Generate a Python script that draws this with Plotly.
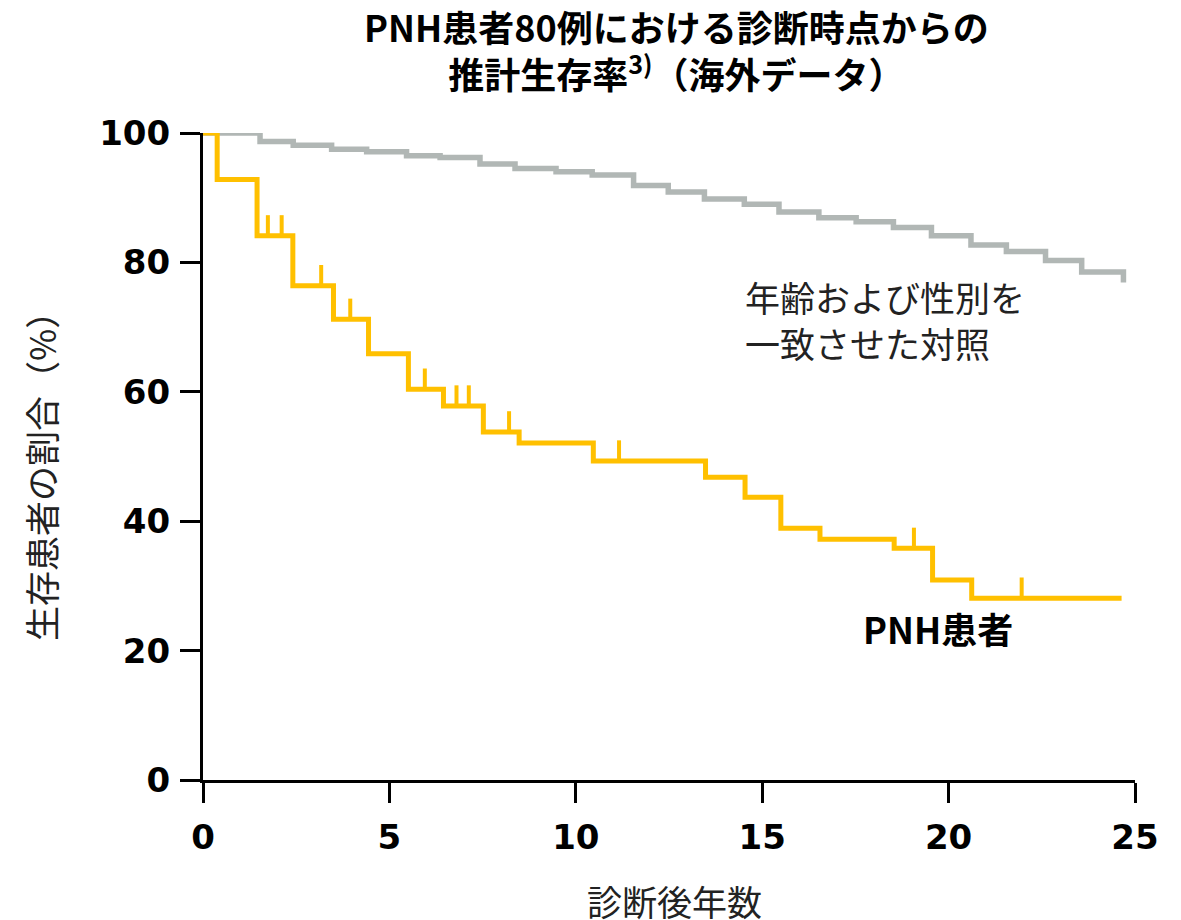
import plotly.graph_objects as go

# PNH patients (Kaplan-Meier steps)
pnh_t = [0, 0.38, 1.45, 2.41, 3.50, 4.44, 5.51, 6.45, 7.52, 8.48, 10.47, 13.48,
         14.54, 15.50, 16.55, 18.54, 19.57, 20.62, 24.64]
pnh_s = [100, 92.8, 84.1, 76.4, 71.2, 65.9, 60.4, 57.8, 53.8, 52.1, 49.3, 46.8,
         43.7, 38.9, 37.2, 35.8, 30.9, 28.1, 28.1]
# censored observations
pnh_cens = [1.74, 2.11, 3.17, 3.95, 5.95, 6.80, 7.13, 8.21, 11.16, 19.07, 21.96]

# age/sex matched controls
ctl_t = [0, 1.53, 2.42, 3.45, 4.39, 5.46, 6.36, 7.43, 8.37, 9.47, 10.44, 11.55,
         12.48, 13.45, 14.52, 15.45, 16.52, 17.52, 18.52, 19.54, 20.60, 21.55,
         22.60, 23.57, 24.69, 24.69]
ctl_s = [100, 98.7, 98.1, 97.5, 97.1, 96.5, 96.2, 95.2, 94.5, 94.0, 93.5, 91.9,
         90.9, 89.8, 89.0, 87.8, 86.9, 86.3, 85.4, 84.1, 82.7, 81.7,
         80.3, 78.5, 78.5, 76.9]

x_ticks = [0, 5, 10, 15, 20, 25]
y_ticks = [0, 20, 40, 60, 80, 100]

YELLOW = "#FFC000"
GRAY = "#B1B7B5"
CENS_H = 3.2

def level_at(t):
    lv = pnh_s[0]
    for tt, ss in zip(pnh_t, pnh_s):
        if tt <= t:
            lv = ss
    return lv

cx, cy = [], []
for t in pnh_cens:
    lv = level_at(t)
    cx += [t, t, None]
    cy += [lv, lv + CENS_H, None]

fig = go.Figure()
fig.add_trace(go.Scatter(x=ctl_t, y=ctl_s, mode="lines", line=dict(color=GRAY, width=5.5, shape="hv"),
                         cliponaxis=False, hoverinfo="skip"))
fig.add_trace(go.Scatter(x=cx, y=cy, mode="lines", line=dict(color=YELLOW, width=4),
                         cliponaxis=False, hoverinfo="skip"))
fig.add_trace(go.Scatter(x=pnh_t, y=pnh_s, mode="lines", line=dict(color=YELLOW, width=5, shape="hv"),
                         cliponaxis=False, hoverinfo="skip"))

W, H = 1181, 920
L, R, T, B = 203, 46, 133, 140
pw, ph = W - L - R, H - T - B

def px(xp):
    return (xp - L) / pw

def py(yp):
    return (H - B - yp) / ph

jp = "Noto Sans CJK JP"
tickfont = dict(family="DejaVu Sans", size=34, color="black", weight="bold")
fig.update_layout(
    width=W, height=H,
    margin=dict(l=L, r=R, t=T, b=B),
    paper_bgcolor="white", plot_bgcolor="white",
    showlegend=False,
    xaxis=dict(range=[0, 25], tickvals=x_ticks, ticktext=[str(v) for v in x_ticks],
               showline=True, linecolor="black", linewidth=3, ticks="outside", ticklen=20,
               tickwidth=3, tickcolor="black", showgrid=False, zeroline=False,
               tickfont=tickfont, ticklabelstandoff=5),
    yaxis=dict(range=[0, 100], tickvals=y_ticks, ticktext=[str(v) for v in y_ticks],
               showline=True, linecolor="black", linewidth=3, ticks="outside", ticklen=20,
               tickwidth=3, tickcolor="black", showgrid=False, zeroline=False,
               tickfont=tickfont, ticklabelstandoff=3),
)

anns = [
    dict(text="<b>PNH患者80例における診断時点からの<br>推計生存率<sup>3)</sup>（海外データ）</b>",
         x=px(676), y=py(50),
         font=dict(family=jp, size=36, color="black")),
    dict(text="年齢および性別を<br>一致させた対照", x=px(743), y=py(319), xanchor="left", align="left",
         font=dict(family=jp, size=35, color="#222222")),
    dict(text="<b>PNH患者</b>", x=px(861), y=py(628), xanchor="left",
         font=dict(family=jp, size=36, color="black")),
    dict(text="生存患者の割合（%）", x=px(40), y=py(468), textangle=-90,
         font=dict(family=jp, size=35, color="#222222")),
    dict(text="診断後年数", x=px(674), y=py(900),
         font=dict(family=jp, size=35, color="#222222")),
]
for a in anns:
    a.setdefault("xanchor", "center")
    a["yanchor"] = "middle"
    a["xref"] = "paper"
    a["yref"] = "paper"
    a["showarrow"] = False
fig.update_layout(annotations=anns)

fig.write_html("out.html", config={"displayModeBar": False},
               post_script="document.body.style.margin='0';")
